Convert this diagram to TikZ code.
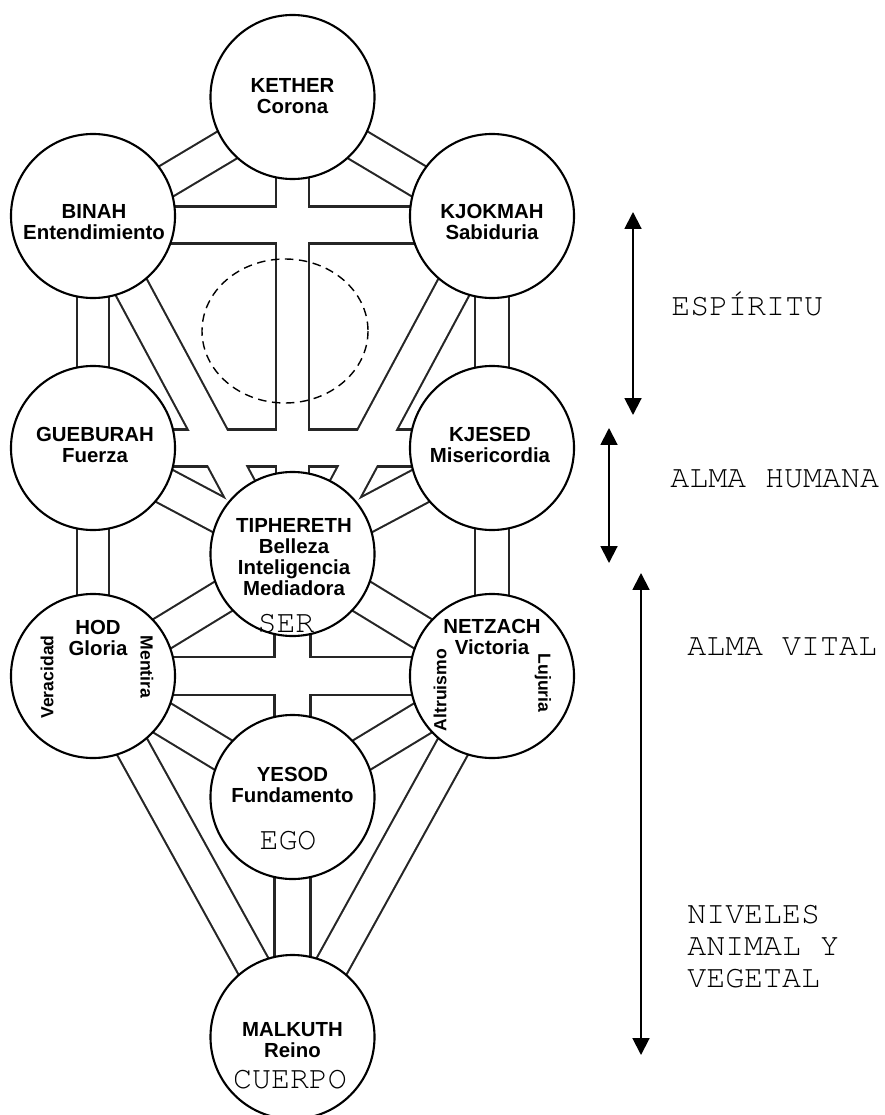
\documentclass[tikz,border=0pt]{standalone}
\usepackage{fontspec}
\setsansfont{Liberation Sans}
\newfontfamily\maquina{texgyrecursor-regular.otf}
\usetikzlibrary{arrows.meta,backgrounds}
\tikzset{sefira/.style={circle, draw, fill=white, line width=1.5pt, minimum size=4.1cm, inner sep=0pt},
  senda/.style={line width=#1*0.025cm+1.5pt, draw=black!85},
  sendablanca/.style={line width=#1*0.025cm-1.5pt, draw=white},
  nombre/.style={font=\sffamily\bfseries\fontsize{14.5}{14.8}\selectfont, align=center, inner sep=0pt},
  lateral/.style={font=\sffamily\bfseries\fontsize{12.5}{13}\selectfont, inner sep=0pt},
  nivel/.style={font=\maquina\fontsize{22.5}{23}\selectfont, inner sep=0pt, anchor=base},
  plano/.style={nivel, anchor=base west},
  flecha/.style={{Triangle[width=12pt,length=12pt]}-{Triangle[width=12pt,length=12pt]}, line width=1.4pt}}

\begin{document}
\begin{tikzpicture}[x=0.025cm,y=-0.025cm]
  \useasboundingbox (0,0) rectangle (884,1115);

  % sefirot
  \node[sefira] (kether) at (292.5,97) {};
  \node[sefira] (binah) at (93,216) {};
  \node[sefira] (kjokmah) at (492,216) {};
  \node[sefira] (gueburah) at (93,448) {};
  \node[sefira] (kjesed) at (492,448) {};
  \node[sefira] (tiphereth) at (292.5,554) {};
  \node[sefira] (hod) at (93,676) {};
  \node[sefira] (netzach) at (492,676) {};
  \node[sefira] (yesod) at (292.5,797) {};
  \node[sefira] (malkuth) at (292.5,1037) {};

  \coordinate (binahB) at (93,225);
  \coordinate (kjokmahB) at (492,225);
  \coordinate (ketherB) at (292.5,106);
  \coordinate (tipherethL) at (274.5,554);
  \coordinate (tipherethR) at (310.5,554);

  % senderos
  \def\senderos{binahB/ketherB/33, kjokmahB/ketherB/33, binahB/kjokmahB/37,
    kether/tiphereth/33, binah/tipherethL/35, kjokmah/tipherethR/35,
    binah/gueburah/32, kjokmah/kjesed/34, gueburah/kjesed/37,
    gueburah/tiphereth/36, kjesed/tiphereth/36, gueburah/hod/32, kjesed/netzach/34,
    tiphereth/hod/34, tiphereth/netzach/34, tiphereth/yesod/36, hod/netzach/38,
    hod/yesod/34, netzach/yesod/34, hod/malkuth/34, netzach/malkuth/34, yesod/malkuth/36}
  \begin{scope}[on background layer]
    \foreach \a/\b/\d in \senderos
      \draw[senda=\d] (\a.center) -- (\b.center);
    \foreach \a/\b/\d in \senderos
      \draw[sendablanca=\d] (\a.center) -- (\b.center);
  \end{scope}

  \draw[dash pattern=on 6pt off 4pt, line width=1pt] (285,331) ellipse [x radius=83, y radius=72];

  \node[nombre] (ketherT) at (292.5,96) {KETHER\\Corona};
  \node[nombre] (binahT) at (94,222) {BINAH\\Entendimiento};
  \node[nombre] (kjokmahT) at (492,222) {KJOKMAH\\Sabiduria};
  \node[nombre] (gueburahT) at (95,445) {GUEBURAH\\Fuerza};
  \node[nombre] (kjesedT) at (490,445) {KJESED\\Misericordia};
  \node[nombre] (tipherethT) at (294,557) {TIPHERETH\\Belleza\\Inteligencia\\Mediadora};
  \node[nombre] (hodT) at (98,638) {HOD\\Gloria};
  \node[nombre] (netzachT) at (492,637) {NETZACH\\Victoria};
  \node[nombre] (yesodT) at (292.5,785) {YESOD\\Fundamento};
  \node[nombre] (malkuthT) at (292.5,1040) {MALKUTH\\Reino};
  \node[lateral, rotate=90] (veracidadT) at (47,677) {Veracidad};
  \node[lateral, rotate=-90] (mentiraT) at (147,667) {Mentira};
  \node[lateral, rotate=90] (altruismoT) at (440,690) {Altruismo};
  \node[lateral, rotate=-90] (lujuriaT) at (543,683) {Lujuria};

  \node[nivel] (serT) at (286,632) {SER};
  \node[nivel] (egoT) at (288,849) {EGO};
  \node[nivel] (cuerpoT) at (290,1088) {CUERPO};

  % planos
  \coordinate (esp1) at (633,212);
  \coordinate (esp2) at (633,415);
  \coordinate (hum1) at (609,428);
  \coordinate (hum2) at (609,563);
  \coordinate (vit1) at (641,573);
  \coordinate (vit2) at (641,1055);
  \draw[flecha] (esp1) -- (esp2);
  \draw[flecha] (hum1) -- (hum2);
  \draw[flecha] (vit1) -- (vit2);
  \node[plano] (espirituT) at (671,315) {ESPÍRITU};
  \node[plano] (humanaT) at (670,487) {ALMA HUMANA};
  \node[plano] (vitalT) at (687,655) {ALMA VITAL};
  \node[plano] (nivelesT) at (687,923) {NIVELES};
  \node[plano] (animalT) at (687,955) {ANIMAL Y};
  \node[plano] (vegetalT) at (687,987) {VEGETAL};
\end{tikzpicture}
\end{document}
